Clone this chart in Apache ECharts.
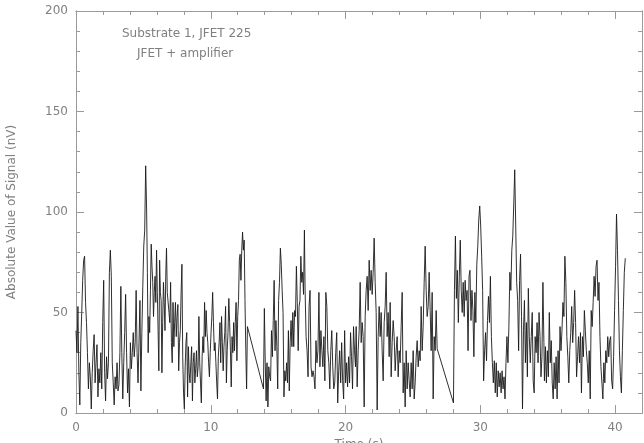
<!DOCTYPE html>
<html>
<head>
<meta charset="utf-8">
<style>html,body{margin:0;padding:0;background:#fff;}#c{width:644px;height:443px;}</style>
<script src="https://cdn.jsdelivr.net/npm/echarts@6/dist/echarts.min.js"></script>
</head>
<body>
<div id="c"></div>
<script>
const seg1aTime = [0, 5.17];
const seg1a = [41,30,53,20,4,35,50,66,76,78,55,45,30,12,25,18,2,20,31,39,15,25,34,8,22,15,30,12,45,66,20,6,28,17,25,70,81,68,25,15,4,18,12,25,11,14,30,63,30,7,25,40,59,30,10,22,3,35,22,30,40,28,35,61,30,15,35,56,11,40,63,83,91,123];
const seg1bTime = [5.24, 6.83];
const seg1b = [101,70,30,48,40,61,84,73,65,48,60,68,55,81,60,41,21,76,60,56,20,45,65,55,41,68,82,60,60];
const seg1cTime = [6.9, 12.72];
const seg1c = [50,45,65,35,25,55,33,45,55,38,48,54,21,35,41,60,74,28,10,2,23,35,40,8,33,20,15,25,33,6,25,30,15,22,31,18,23,48,25,15,5,28,38,30,55,38,51,40,35,25,18,30,40,48,60,45,31,35,25,15,7,28,35,45,25,48,35,21,33,40,53,15,31,40,57,45,31,13,38,30,45,31,45,55,26,48,56,76,79,66,81,90,81,86,56,31,12,43];
const seg2aTime = [13.91, 16.95];
const seg2a = [12,52,25,6,25,3,23,18,16,41,28,46,66,31,46,33,12,56,65,82,74,61,50,8,21,16,25,15,41,11,35,46,33,50,33,51,48,73,55,31,53,56,78,65,70,59,91];
const seg2bTime = [17.0, 20.74];
const seg2b = [61,38,31,18,53,61,23,18,21,18,12,36,25,31,60,23,41,31,23,38,16,60,53,31,25,12,31,41,23,12,15,30,40,5,21,31,15,35,16,7,41,15,25,13,28,15,40,28,12,43,31,23];
const seg2cTime = [20.79, 26.8];
const seg2c = [43,13,31,41,65,35,45,38,3,48,61,68,51,76,61,71,59,70,87,65,50,1.5,38,53,38,50,31,16,45,53,70,38,50,28,55,18,35,46,38,21,31,38,18,31,25,43,60,10,25,3,31,12,25,16,8,25,12,31,7,15,28,36,23,31,26,53,31,43,65,83,61,48,53,70,51,31,60,7,38,31,51,32];
const seg3aTime = [28.01, 34.72];
const seg3a = [5,61,88,57,71,45,68,86,61,50,65,48,66,56,61,31,68,71,46,61,51,28,60,45,74,83,96,103,93,78,61,16,31,40,26,46,58,45,68,38,25,15,26,10,25,8,21,13,20,10,21,12,18,7,25,38,25,43,70,61,81,88,104,121,94,65,56,31,66,79,48,2,41,56,25,45,18,62,38,25,38,50,16,10,38,30,45,25,50,38,18,28,65,35];
const seg3bTime = [34.76, 40.76];
const seg3b = [16,33,15,31,18,50,25,36,15,7,25,12,28,7,31,15,43,31,41,55,48,78,65,38,28,15,31,40,53,35,45,61,45,18,28,38,25,40,10,38,28,51,41,31,25,15,31,7,51,43,55,68,58,73,76,56,65,38,23,15,7,25,15,31,25,38,28,36,38,16,12,28,51,73,99,81,56,31,18,10,31,51,70,77];

const xTickLabels = ['0','10','20','30','40'];
const yTickLabels = ['0','50','100','150','200'];
const annotation1 = 'Substrate 1, JFET 225';
const annotation2 = 'JFET + amplifier';
const xName = 'Time (s)';
const yName = 'Absolute Value of Signal (nV)';

const chunks = [[seg1aTime, seg1a],[seg1bTime, seg1b],[seg1cTime, seg1c],[seg2aTime, seg2a],[seg2bTime, seg2b],[seg2cTime, seg2c],[seg3aTime, seg3a],[seg3bTime, seg3b]];
const data = [];
chunks.forEach(([tr, vals]) => {
  const n = vals.length;
  vals.forEach((v, i) => {
    data.push([tr[0] + (tr[1] - tr[0]) * i / (n - 1), v]);
  });
});

const axisColor = '#9a9a9a';
const textColor = '#808080';
const font = 'DejaVu Sans';

function xAx(pos, interval, len, labels) {
  return {
    type: 'value', position: pos, min: 0, max: 42, interval: interval,
    axisLine: { show: true, onZero: false, lineStyle: { color: axisColor, width: 1 } },
    axisTick: { show: true, inside: true, length: len, lineStyle: { color: axisColor, width: 1 } },
    axisLabel: labels ? {
      show: true, color: textColor, fontFamily: font, fontSize: 12, margin: 9, showMaxLabel: false,
      formatter: v => { const i = xTickLabels.indexOf(String(v)); return i >= 0 ? xTickLabels[i] : ''; }
    } : { show: false },
    splitLine: { show: false },
    name: labels ? xName : '', nameLocation: 'middle', nameGap: 22,
    nameTextStyle: { color: textColor, fontFamily: font, fontSize: 12, verticalAlign: 'top' }
  };
}
function yAx(pos, interval, len, labels) {
  return {
    type: 'value', position: pos, min: 0, max: 200, interval: interval,
    axisLine: { show: true, onZero: false, lineStyle: { color: axisColor, width: 1 } },
    axisTick: { show: true, inside: true, length: len, lineStyle: { color: axisColor, width: 1 } },
    axisLabel: labels ? {
      show: true, color: textColor, fontFamily: font, fontSize: 12, margin: 8,
      formatter: v => { const i = yTickLabels.indexOf(String(v)); return i >= 0 ? yTickLabels[i] : ''; }
    } : { show: false },
    splitLine: { show: false },
    name: labels ? yName : '', nameLocation: 'middle', nameGap: 58, nameRotate: 90,
    nameTextStyle: { color: textColor, fontFamily: font, fontSize: 12 }
  };
}

const chart = echarts.init(document.getElementById('c'), null, { renderer: 'canvas' });
chart.setOption({
  animation: false,
  backgroundColor: '#fff',
  grid: { left: 76, right: 2, top: 11, bottom: 30, containLabel: false, outerBoundsMode: 'none' },
  xAxis: [ xAx('bottom', 10, 8, true), xAx('top', 10, 8, false), xAx('top', 2, 4, false), xAx('bottom', 2, 4, false) ],
  yAxis: [ yAx('left', 50, 8, true), yAx('right', 50, 8, false), yAx('right', 10, 4, false), yAx('left', 10, 4, false) ],
  series: [{
    type: 'line', xAxisIndex: 0, yAxisIndex: 0, data: data,
    showSymbol: false, symbol: 'none',
    lineStyle: { color: '#1a1a1a', width: 0.9 }
  }],
  graphic: [
    { type: 'text', left: 122, top: 28, style: { text: annotation1, fill: textColor, font: '12px "DejaVu Sans"' } },
    { type: 'text', left: 137, top: 48, style: { text: annotation2, fill: textColor, font: '12px "DejaVu Sans"' } }
  ]
});
</script>
</body>
</html>
